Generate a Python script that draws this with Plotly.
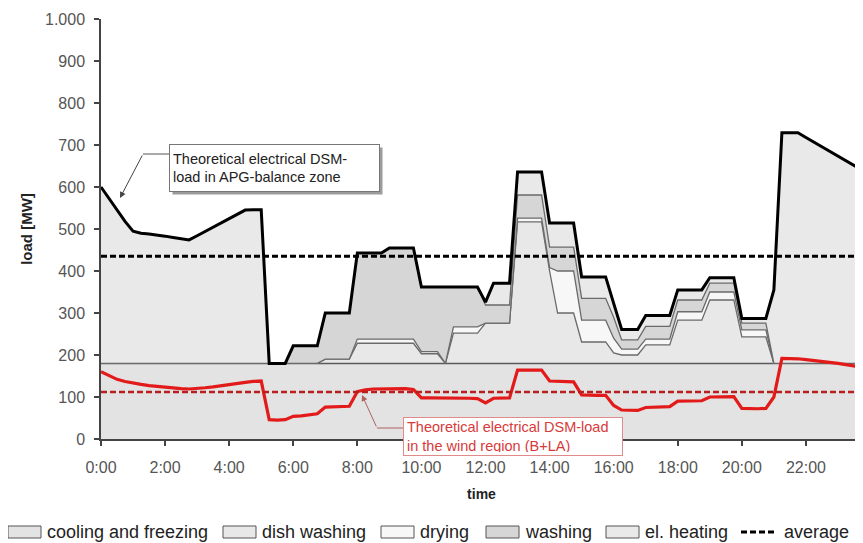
import numpy as np
import plotly.graph_objects as go

# ---------------- data (quarter-hour values, MW) ----------------
time_labels = ["0:00", "2:00", "4:00", "6:00", "8:00", "10:00", "12:00",
               "14:00", "16:00", "18:00", "20:00", "22:00"]
tick_hours = [0, 2, 4, 6, 8, 10, 12, 14, 16, 18, 20, 22]
time_h = [i * 0.25 for i in range(96)]          # 0:00 ... 23:45

cooling_freezing = [
    180, 180, 180, 180, 180, 180, 180, 180,
    180, 180, 180, 180, 180, 180, 180, 180,
    180, 180, 180, 180, 180, 180, 180, 180,
    180, 180, 180, 180, 180, 180, 180, 180,
    180, 180, 180, 180, 180, 180, 180, 180,
    180, 180, 180, 180, 180, 180, 180, 180,
    180, 180, 180, 180, 180, 180, 180, 180,
    180, 180, 180, 180, 180, 180, 180, 180,
    180, 180, 180, 180, 180, 180, 180, 180,
    180, 180, 180, 180, 180, 180, 180, 180,
    180, 180, 180, 180, 180, 180, 180, 180,
    180, 180, 180, 180, 180, 180, 180, 180]

dish_washing = [
    0, 0, 0, 0, 0, 0, 0, 0,
    0, 0, 0, 0, 0, 0, 0, 0,
    0, 0, 0, 0, 0, 0, 0, 0,
    0, 0, 0, 0, 10, 10, 10, 10,
    48, 48, 48, 48, 48, 48, 48, 48,
    23, 23, 23, 0, 72, 72, 72, 72,
    96, 96, 96, 96, 337, 337, 337, 337,
    220, 120, 120, 120, 51, 51, 51, 51,
    25, 20, 20, 20, 44, 44, 44, 44,
    103, 103, 103, 103, 151, 151, 151, 151,
    63, 63, 63, 63, 0, 0, 0, 0,
    0, 0, 0, 0, 0, 0, 0, 0]

drying = [
    0, 0, 0, 0, 0, 0, 0, 0,
    0, 0, 0, 0, 0, 0, 0, 0,
    0, 0, 0, 0, 0, 0, 0, 0,
    0, 0, 0, 0, 0, 0, 0, 0,
    10, 10, 10, 10, 10, 10, 10, 10,
    5, 5, 5, 0, 15, 15, 15, 15,
    0, 0, 0, 0, 9, 9, 9, 9,
    8, 100, 100, 100, 52, 52, 52, 52,
    35, 14, 14, 14, 14, 14, 14, 14,
    20, 20, 20, 20, 19, 19, 19, 19,
    17, 17, 17, 17, 0, 0, 0, 0,
    0, 0, 0, 0, 0, 0, 0, 0]

washing = [
    0, 0, 0, 0, 0, 0, 0, 0,
    0, 0, 0, 0, 0, 0, 0, 0,
    0, 0, 0, 0, 0, 0, 0, 0,
    42, 42, 42, 42, 110, 110, 110, 110,
    205, 205, 205, 205, 217, 217, 217, 217,
    154, 154, 154, 182, 95, 95, 95, 95,
    43, 43, 43, 43, 55, 55, 55, 55,
    49, 57, 57, 57, 52, 52, 52, 52,
    50, 22, 22, 22, 30, 30, 30, 30,
    28, 28, 28, 28, 21, 21, 21, 21,
    16, 16, 16, 16, 0, 0, 0, 0,
    0, 0, 0, 0, 0, 0, 0, 0]

el_heating = [
    420, 392, 365, 338, 315, 310, 308, 306,
    303, 300, 297, 294, 304, 314, 324, 334,
    344, 354, 365, 366, 366, 0, 0, 0,
    0, 0, 0, 0, 0, 0, 0, 0,
    0, 0, 0, 0, 0, 0, 0, 0,
    0, 0, 0, 0, 0, 0, 0, 0,
    7, 52, 52, 52, 55, 55, 55, 55,
    57, 57, 57, 57, 51, 51, 51, 51,
    33, 25, 25, 25, 26, 26, 26, 26,
    24, 24, 24, 24, 13, 13, 13, 13,
    11, 11, 11, 11, 175, 549, 549, 549,
    538, 527, 516, 505, 494, 483, 471, 460]

wind_region = [
    160, 150, 142, 137, 133, 130, 127, 125,
    123, 121, 120, 119, 120, 122, 124, 127,
    129, 132, 135, 137, 138, 46, 45, 46,
    54, 55, 57, 60, 76, 77, 77, 78,
    113, 117, 119, 119, 120, 120, 120, 118,
    98, 98, 98, 98, 98, 98, 97, 96,
    86, 97, 98, 98, 164, 164, 164, 164,
    138, 137, 136, 136, 105, 104, 104, 104,
    80, 69, 68, 68, 75, 76, 76, 77,
    90, 90, 91, 91, 100, 100, 101, 101,
    73, 72, 72, 73, 100, 192, 192, 191,
    189, 187, 185, 183, 180, 177, 174, 171]

average_apg = 435
average_wind = 112

y_ticks = [0, 100, 200, 300, 400, 500, 600, 700, 800, 900, 1000]
y_ticktext = ["0", "100", "200", "300", "400", "500", "600", "700", "800", "900", "1.000"]

legend_names = ["cooling and freezing", "dish washing", "drying", "washing",
                "el. heating", "average"]

# ---------------- figure ----------------
FONT = "Liberation Sans, Arial, sans-serif"
X_END = 23.75
# page body has an 8px margin -> figure drawn 8px right/down
OFF = 8
W, H = 863 - OFF, 543 - OFF
REF_L, REF_T, PW, PH = 101, 19, 761, 420      # plot area in page pixels
L, T = REF_L - OFF, REF_T - OFF
R = W - L - PW
B = H - T - PH


def px2x(px):
    return (px - REF_L) / PW * X_END


def py2y(py):
    return (REF_T + PH - py) / PH * 1000


def px2paper(px):
    return (px - REF_L) / PW


def py2paper(py):
    return (REF_T + PH - py) / PH


fig = go.Figure()

fills = ["#e3e3e3", "#e8e8e8", "#f7f7f7", "#d6d6d6", "#e9e9e9"]
layers = [cooling_freezing, dish_washing, drying, washing, el_heating]
for name, vals, fc in zip(legend_names[:5], layers, fills):
    first = name.startswith("cool")
    fig.add_trace(go.Scatter(
        x=time_h, y=vals, name=name, stackgroup="dsm", mode="lines",
        fillcolor=fc, line=dict(color="#5a5a5a" if first else "#6a6a6a",
                                width=1.5 if first else 1.3),
        hoverinfo="skip", showlegend=False))

total = np.sum(layers, axis=0)
fig.add_trace(go.Scatter(x=time_h, y=total, mode="lines", showlegend=False,
                         line=dict(color="black", width=3), hoverinfo="skip"))

fig.add_trace(go.Scatter(x=time_h, y=wind_region, mode="lines", showlegend=False,
                         line=dict(color="#e31a1a", width=3.2), hoverinfo="skip"))

fig.add_trace(go.Scatter(x=[0, X_END], y=[average_apg, average_apg], mode="lines",
                         name="average", showlegend=False,
                         line=dict(color="black", width=3, dash="6px,3px"),
                         hoverinfo="skip"))
fig.add_trace(go.Scatter(x=[0, X_END], y=[average_wind, average_wind], mode="lines",
                         showlegend=False,
                         line=dict(color="#b82020", width=2.5, dash="6px,3px"),
                         hoverinfo="skip"))

annotations = [
    # shadow of upper box
    dict(x=px2x(169), y=py2y(144), xref="x", yref="y", xanchor="left", yanchor="top",
         text=" ", width=209, height=46, bgcolor="#9c9c9c", showarrow=False,
         xshift=3, yshift=-3, borderpad=0),
    dict(x=px2x(169), y=py2y(144), xref="x", yref="y", xanchor="left", yanchor="top",
         text="Theoretical electrical DSM-<br>load in APG-balance zone",
         width=203, height=40, borderpad=3, borderwidth=1, bordercolor="#777777",
         bgcolor="white", align="left", valign="middle", showarrow=False,
         font=dict(family=FONT, size=14.5, color="#222222")),
    dict(x=px2x(120), y=py2y(198), ax=px2x(143), ay=py2y(154), xref="x", yref="y",
         axref="x", ayref="y", text="", showarrow=True, arrowhead=2, arrowsize=1.2,
         arrowwidth=1, arrowcolor="#444444"),
    dict(x=px2x(403), y=py2y(417), xref="x", yref="y", xanchor="left", yanchor="top",
         text="Theoretical electrical DSM-load<br>in the wind region (B+LA)",
         width=212, height=31, borderpad=3, borderwidth=1, bordercolor="#e08a8a",
         bgcolor="white", align="left", valign="middle", showarrow=False,
         font=dict(family=FONT, size=14.5, color="#d83a3a")),
    dict(x=px2x(362), y=py2y(395), ax=px2x(377), ay=py2y(428), xref="x", yref="y",
         axref="x", ayref="y", text="", showarrow=True, arrowhead=2, arrowsize=1.2,
         arrowwidth=1, arrowcolor="#b06060"),
]

shapes = [
    dict(type="line", xref="x", yref="y", x0=px2x(143), y0=py2y(154),
         x1=px2x(169), y1=py2y(154), line=dict(color="#555555", width=1)),
    dict(type="line", xref="x", yref="y", x0=px2x(377), y0=py2y(428),
         x1=px2x(403), y1=py2y(428), line=dict(color="#b06060", width=1)),
]

# ---- legend row (swatches + labels) ----
LEG_Y = 532
swatch_x = [8, 223, 381, 486, 606, 741]
for i, name in enumerate(legend_names):
    x0 = swatch_x[i]
    if i < 5:
        shapes.append(dict(type="rect", xref="paper", yref="paper",
                           x0=px2paper(x0), x1=px2paper(x0 + 33),
                           y0=py2paper(LEG_Y - 6), y1=py2paper(LEG_Y + 6),
                           fillcolor=fills[i], line=dict(color="#555555", width=1)))
    else:
        shapes.append(dict(type="line", xref="paper", yref="paper",
                           x0=px2paper(x0), x1=px2paper(x0 + 36),
                           y0=py2paper(LEG_Y), y1=py2paper(LEG_Y),
                           line=dict(color="black", width=3, dash="6px,3px")))
    annotations.append(dict(x=px2paper(x0 + (37 if i < 5 else 41)), y=py2paper(LEG_Y),
                            xref="paper", yref="paper", xanchor="left", yanchor="middle",
                            text=name, showarrow=False,
                            font=dict(family=FONT, size=18, color="#222222")))

fig.update_layout(
    width=W, height=H,
    margin=dict(l=L, r=R, t=T, b=B, pad=0),
    paper_bgcolor="white", plot_bgcolor="white",
    font=dict(family=FONT, size=16, color="#333333"),
    showlegend=False,
    annotations=annotations,
    shapes=shapes,
    xaxis=dict(range=[0, X_END], tickvals=tick_hours, ticktext=time_labels,
               automargin=False,
               showline=True, linecolor="#444444", linewidth=1.5,
               ticks="outside", ticklen=5, tickcolor="#444444", tickwidth=1.5,
               ticklabelstandoff=8,
               showgrid=False, zeroline=False,
               tickfont=dict(family=FONT, size=16, color="#555555"),
               title=dict(text="<b>time</b>", standoff=14,
                          font=dict(family=FONT, size=14, color="#222222"))),
    yaxis=dict(range=[0, 1000], tickvals=y_ticks, ticktext=y_ticktext,
               automargin=False,
               showline=True, linecolor="#444444", linewidth=1.5,
               ticks="outside", ticklen=5, tickcolor="#444444", tickwidth=1.5,
               ticklabelstandoff=6,
               showgrid=False, zeroline=False,
               tickfont=dict(family=FONT, size=16, color="#555555"),
               title=dict(text="<b>load [MW]</b>", standoff=9,
                          font=dict(family=FONT, size=15, color="#222222"))),
)

fig.write_html("out.html")
